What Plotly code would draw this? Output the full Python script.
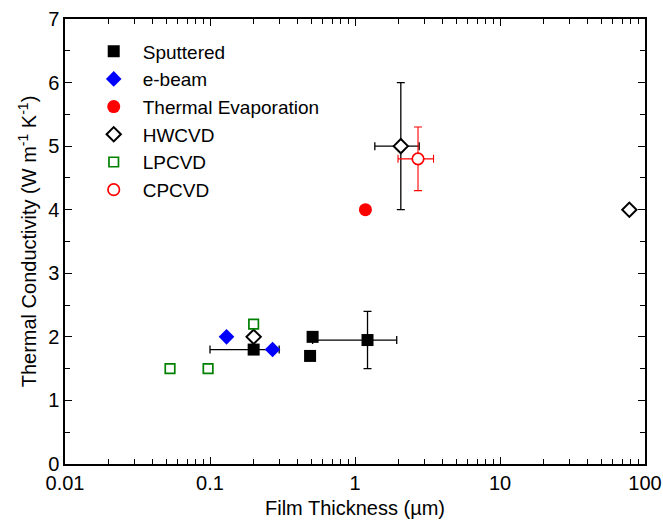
import plotly.graph_objects as go

# Data (film thickness in µm, thermal conductivity in W m^-1 K^-1)
sput_x = [0.2, 0.49, 0.51, 1.22]
sput_y = [1.8, 1.7, 2.0, 1.95]
# error bars (only points that have them)
sput_err_x = [0.2, 1.22]
sput_err_y = [1.8, 1.95]
sput_xerr_plus = [0.1, 0.72]
sput_xerr_minus = [0.1, 0.71]
sput_yerr = [0, 0.45]

ebeam_x = [0.13, 0.27]
ebeam_y = [2.0, 1.8]

therm_x = [1.18]
therm_y = [4.0]

hw_x = [0.2, 2.07, 78]
hw_y = [2.0, 5.0, 4.0]
hw_err_x = [2.07]
hw_err_y = [5.0]
hw_xerr = [0.7]
hw_yerr = [1.0]

lp_x = [0.053, 0.097, 0.2]
lp_y = [1.5, 1.5, 2.2]

cp_x = [2.72]
cp_y = [4.8]
cp_xerr_plus = [0.76]
cp_xerr_minus = [0.74]
cp_yerr = [0.5]

xtick_vals = [0.01, 0.1, 1, 10, 100]
xtick_text = ["0.01", "0.1", "1", "10", "100"]

FONT = "Liberation Sans, Arial, sans-serif"
CLEAR = "rgba(0,0,0,0)"

fig = go.Figure()

# error bar layers (drawn beneath markers)
fig.add_trace(go.Scatter(
    x=sput_err_x, y=sput_err_y, mode="markers", showlegend=False, hoverinfo="skip",
    marker=dict(size=1, color=CLEAR),
    error_x=dict(type="data", symmetric=False, array=sput_xerr_plus,
                 arrayminus=sput_xerr_minus, color="black", thickness=1.3, width=4),
    error_y=dict(type="data", array=sput_yerr, color="black", thickness=1.3, width=4),
))
fig.add_trace(go.Scatter(
    x=hw_err_x, y=hw_err_y, mode="markers", showlegend=False, hoverinfo="skip",
    marker=dict(size=1, color=CLEAR),
    error_x=dict(type="data", array=hw_xerr, color="black", thickness=1.3, width=4),
    error_y=dict(type="data", array=hw_yerr, color="black", thickness=1.3, width=4),
))
fig.add_trace(go.Scatter(
    x=cp_x, y=cp_y, mode="markers", showlegend=False, hoverinfo="skip",
    marker=dict(size=1, color=CLEAR),
    error_x=dict(type="data", symmetric=False, array=cp_xerr_plus,
                 arrayminus=cp_xerr_minus, color="#ff0000", thickness=1.1, width=4),
    error_y=dict(type="data", array=cp_yerr, color="#ff0000", thickness=1.1, width=4),
))

fig.add_trace(go.Scatter(
    x=sput_x, y=sput_y, mode="markers", name="Sputtered",
    marker=dict(symbol="square", size=12, color="black"),
))
fig.add_trace(go.Scatter(
    x=ebeam_x, y=ebeam_y, mode="markers", name="e-beam",
    marker=dict(symbol="diamond", size=12, color="#0000ff"),
))
fig.add_trace(go.Scatter(
    x=therm_x, y=therm_y, mode="markers", name="Thermal Evaporation",
    marker=dict(symbol="circle", size=13, color="#ff0000"),
))
fig.add_trace(go.Scatter(
    x=hw_x, y=hw_y, mode="markers", name="HWCVD",
    marker=dict(symbol="diamond", size=11, color="white",
                line=dict(width=2, color="black")),
))
fig.add_trace(go.Scatter(
    x=lp_x, y=lp_y, mode="markers", name="LPCVD",
    marker=dict(symbol="square", size=9.5, color="white",
                line=dict(width=1.7, color="#008000")),
))
fig.add_trace(go.Scatter(
    x=cp_x, y=cp_y, mode="markers", name="CPCVD",
    marker=dict(symbol="circle", size=11.5, color="white",
                line=dict(width=1.7, color="#ff0000")),
))

fig.update_layout(
    width=663, height=523,
    margin=dict(l=65, r=18, t=19, b=59, autoexpand=False),
    paper_bgcolor="white", plot_bgcolor="white",
    font=dict(family=FONT, size=20, color="black"),
    showlegend=True,
    legend=dict(x=0.034, y=0.97, xanchor="left", yanchor="top",
                bgcolor=CLEAR, font=dict(size=19, family=FONT),
                itemwidth=48),
)

fig.update_xaxes(
    type="log", range=[-2, 2], automargin=False,
    tickvals=xtick_vals, ticktext=xtick_text, ticklabeloverflow="allow",
    ticks="inside", ticklen=7, tickwidth=1.3, tickcolor="black",
    showline=True, linecolor="black", linewidth=1.5, mirror="ticks",
    showgrid=False, zeroline=False,
    minor=dict(ticks="inside", ticklen=5, tickwidth=1.1, tickcolor="black",
               dtick="D1", showgrid=False),
    title=dict(text="Film Thickness (\u00b5m)", font=dict(size=20), standoff=8),
    tickfont=dict(size=20),
)
fig.update_yaxes(
    range=[0, 7], dtick=1, automargin=False, ticklabeloverflow="allow",
    ticks="inside", ticklen=7, tickwidth=1.3, tickcolor="black",
    showline=True, linecolor="black", linewidth=1.5, mirror="ticks",
    showgrid=False, zeroline=False,
    minor=dict(ticks="inside", ticklen=5, tickwidth=1.1, tickcolor="black",
               dtick=0.5, showgrid=False),
    title=dict(text="Thermal Conductivity (W m<sup>-1</sup> K<sup>-1</sup>)",
               font=dict(size=20), standoff=6),
    tickfont=dict(size=20),
)

fig.write_html(
    "out.html",
    config={"displayModeBar": False},
    post_script="document.body.style.margin='0';document.body.style.overflow='hidden';",
)
